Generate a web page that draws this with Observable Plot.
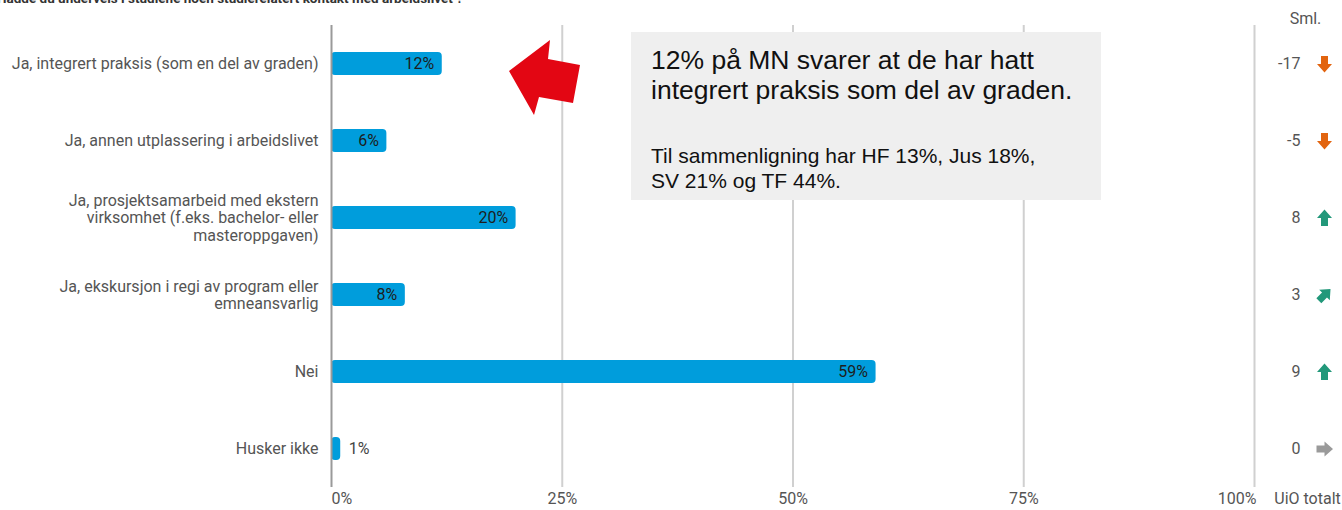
<!DOCTYPE html>
<html>
<head>
<meta charset="utf-8">
<script src="https://cdn.jsdelivr.net/npm/d3@7"></script>
<script src="https://cdn.jsdelivr.net/npm/@observablehq/plot@0.6"></script>
<style>
  html, body { margin: 0; padding: 0; background: #fff; overflow: hidden; }
  #wrap { position: relative; width: 1342px; height: 510px; overflow: hidden; }
  #title { position: absolute; left: -3px; top: -10px; font: bold 13.5px Roboto, sans-serif; color: #333; white-space: nowrap; }
  #note { position: absolute; left: 631px; top: 32px; width: 470px; height: 168px; background: #efefef; font-family: "Liberation Sans", Arial, sans-serif; color: #111; box-sizing: border-box; padding: 13px 0 0 20px; }
  #note .big { font-size: 26.5px; line-height: 30px; }
  #note .small { font-size: 21px; line-height: 25px; margin-top: 38px; }
  #redarrow { position: absolute; left: 0; top: 0; }
</style>
</head>
<body>
<div id="wrap"></div>
<script>
// ---- data ----
const categories = [
  "Ja, integrert praksis (som en del av graden)",
  "Ja, annen utplassering i arbeidslivet",
  "Ja, prosjektsamarbeid med ekstern virksomhet (f.eks. bachelor- eller masteroppgaven)",
  "Ja, ekskursjon i regi av program eller emneansvarlig",
  "Nei",
  "Husker ikke"
];
const labelLines = [
  "Ja, integrert praksis (som en del av graden)",
  "Ja, annen utplassering i arbeidslivet",
  "Ja, prosjektsamarbeid med ekstern\nvirksomhet (f.eks. bachelor- eller\nmasteroppgaven)",
  "Ja, ekskursjon i regi av program eller\nemneansvarlig",
  "Nei",
  "Husker ikke"
];
const values = [12, 6, 20, 8, 59, 1];
const diffs = [-17, -5, 8, 3, 9, 0];
const directions = ["down", "down", "up", "upright", "up", "right"];
const xTicks = [0, 25, 50, 75, 100];
const xTickLabels = ["0%", "25%", "50%", "75%", "100%"];
const titleText = "Hadde du underveis i studiene noen studierelatert kontakt med arbeidslivet ?";
const noteBig = "12% på MN svarer at de har hatt<br>integrert praksis som del av graden.";
const noteSmall = "Til sammenligning har HF 13%, Jus 18%,<br>SV 21% og TF 44%.";

const rows = categories.map((c, i) => ({cat: c, label: labelLines[i], value: values[i], diff: diffs[i], dir: directions[i]}));
const ticks = xTicks.map((t, i) => ({t, label: xTickLabels[i], i}));

// ---- arrow symbols for the comparison column ----
function arrowPoly(rot) {
  const pts = [[0,-8.5],[7.5,0],[3.5,0],[3.5,8],[-3.5,8],[-3.5,0],[-7.5,0]];
  const a = rot * Math.PI / 180, c = Math.cos(a), s = Math.sin(a);
  return pts.map(([x, y]) => [x * c - y * s, x * s + y * c]);
}
function symbolFor(rot) {
  const pts = arrowPoly(rot);
  return { draw(ctx) { ctx.moveTo(...pts[0]); for (const p of pts.slice(1)) ctx.lineTo(...p); ctx.closePath(); } };
}
const arrowStyles = {
  down: {rot: 180, fill: "#e2640f"},
  up: {rot: 0, fill: "#22987a"},
  upright: {rot: 45, fill: "#22987a"},
  right: {rot: 90, fill: "#9a9a9a"}
};

const font = "Roboto, sans-serif";
const W = 1342, H = 510;

const marks = [
  Plot.ruleX(xTicks.filter(t => t > 0), {stroke: "#d0d0d0", strokeWidth: 2}),
  Plot.barX(rows, {x: "value", y: "cat", fill: "#009ddc", insetTop: 27, insetBottom: 27, rx: 4}),
  Plot.ruleX([0], {stroke: "#9a9a9a", strokeWidth: 2}),
  // category labels
  Plot.text(rows, {x: 0, y: "cat", text: "label", textAnchor: "end", dx: -13, fontSize: 16, fill: "#555", lineHeight: 1.07}),
  // values inside bars
  Plot.text(rows.filter(d => d.value >= 3), {x: "value", y: "cat", text: d => d.value + "%", textAnchor: "end", dx: -8, fontSize: 16, fill: "#1d1d1d"}),
  // values outside bars
  Plot.text(rows.filter(d => d.value < 3), {x: "value", y: "cat", text: d => d.value + "%", textAnchor: "start", dx: 8, fontSize: 16, fill: "#444"}),
  // x tick labels
  Plot.text(ticks.filter(d => d.i === 0), {x: "t", text: "label", frameAnchor: "bottom", textAnchor: "start", dy: 16, fontSize: 16, fill: "#555"}),
  Plot.text(ticks.filter(d => d.i > 0 && d.i < ticks.length - 1), {x: "t", text: "label", frameAnchor: "bottom", textAnchor: "middle", dy: 16, fontSize: 16, fill: "#555"}),
  Plot.text(ticks.filter(d => d.i === ticks.length - 1), {x: "t", text: "label", frameAnchor: "bottom", textAnchor: "end", dx: 2, dy: 16, fontSize: 16, fill: "#555"}),
  // comparison column
  Plot.text(rows, {y: "cat", text: d => String(d.diff), frameAnchor: "right", textAnchor: "end", dx: 46, fontSize: 16, fill: "#555"}),
  ...Object.entries(arrowStyles).map(([k, st]) =>
    Plot.dot(rows.filter(d => d.dir === k), {y: "cat", frameAnchor: "right", dx: 70, symbol: symbolFor(st.rot), r: 7, fill: st.fill, stroke: null})
  ),
  Plot.text(["Sml."], {frameAnchor: "top-right", text: d => d, textAnchor: "middle", dx: 51, dy: -13, fontSize: 16, fill: "#555"}),
  Plot.text(["UiO totalt"], {frameAnchor: "bottom-right", text: d => d, textAnchor: "middle", dx: 53, dy: 16, fontSize: 16, fill: "#555"})
];

const chart = Plot.plot({
  width: W,
  height: H,
  marginLeft: 331,
  marginRight: 88,
  marginTop: 25,
  marginBottom: 23,
  style: {fontFamily: font, background: "transparent", overflow: "visible"},
  x: {domain: [0, 100], axis: null},
  y: {domain: categories, padding: 0, axis: null},
  marks
});

const wrap = document.getElementById("wrap");
wrap.appendChild(chart);

const title = document.createElement("div");
title.id = "title";
title.textContent = titleText;
wrap.appendChild(title);

const note = document.createElement("div");
note.id = "note";
note.innerHTML = `<div class="big">${noteBig}</div><div class="small">${noteSmall}</div>`;
wrap.appendChild(note);

// red callout arrow pointing at the first bar
const svgNS = "http://www.w3.org/2000/svg";
const ra = document.createElementNS(svgNS, "svg");
ra.setAttribute("id", "redarrow");
ra.setAttribute("width", W);
ra.setAttribute("height", H);
const poly = document.createElementNS(svgNS, "polygon");
poly.setAttribute("points", "509,71 550,40 548,59 580,65 573,103 539,97 534,115");
poly.setAttribute("fill", "#e30613");
ra.appendChild(poly);
wrap.appendChild(ra);
</script>
</body>
</html>
